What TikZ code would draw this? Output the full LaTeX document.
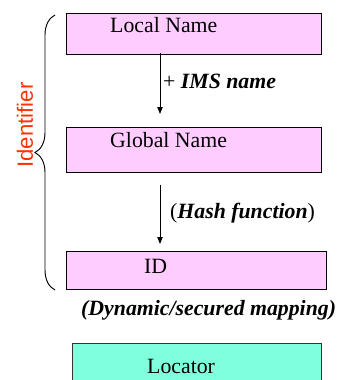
\documentclass[tikz,border=0pt]{standalone}
\usepackage{fontspec}
\setmainfont{Liberation Serif}
\setsansfont{Liberation Sans}
\usetikzlibrary{arrows.meta,decorations.pathreplacing}
\definecolor{namepink}{HTML}{FFCCFF}
\definecolor{locgreen}{HTML}{80FFDD}
\definecolor{idred}{HTML}{FF3300}
\tikzset{
	namebox/.style={draw=black, line width=0.8pt, fill=namepink, inner sep=0pt},
	locbox/.style={draw=black!80, line width=0.8pt, fill=locgreen, inner sep=0pt},
	boxtext/.style={anchor=base west, inner sep=0pt, font=\fontsize{18.6}{22}\selectfont},
	maparrow/.style={line width=0.8pt, -{Triangle[length=2.1mm,width=1.6mm]}}
}
\begin{document}
\begin{tikzpicture}[x=0.03cm, y=-0.03cm]
		\useasboundingbox (0,0) rectangle (337,380);

		\node[namebox, minimum width=7.65cm, minimum height=1.23cm] (local) at (193.5,33.5) {};
		\node[namebox, minimum width=7.65cm, minimum height=1.35cm] (global) at (193.5,149.5) {};
		\node[namebox, minimum width=7.8cm, minimum height=1.14cm] (id) at (196,270) {};
		\node[locbox, minimum width=7.47cm, minimum height=1.2cm] (loc) at (196.5,363) {};

		\node[boxtext] (localtxt) at (110,32) {Local Name};
		\node[boxtext] (globaltxt) at (110,147) {Global Name};
		\node[boxtext] (idtxt) at (144,273) {ID};
		\node[boxtext] (loctxt) at (147,373) {Locator};

		\coordinate (a1s) at (160,53);
		\coordinate (a1e) at (160,114);
		\coordinate (a2s) at (160,185);
		\coordinate (a2e) at (160,244);
		\draw[maparrow] (a1s) -- (a1e);
		\draw[maparrow] (a2s) -- (a2e);

		\node[boxtext] (ims) at (163,88) {+ \textbf{\textit{IMS name}}};
		\node[boxtext] (hash) at (170,218) {(\textbf{\textit{Hash function}})};
		\node[boxtext] (dyn) at (81,315) {\textbf{\textit{(Dynamic/secured mapping)}}};

		\draw[line width=0.8pt, decorate, decoration={brace, amplitude=0.6cm}]
			(55,290) -- (55,15);
		\node[rotate=90, text=idred, inner sep=0pt, font=\sffamily\fontsize{18.9}{22}\selectfont]
			(ident) at (25,125) {Identifier};
	\end{tikzpicture}
\end{document}
